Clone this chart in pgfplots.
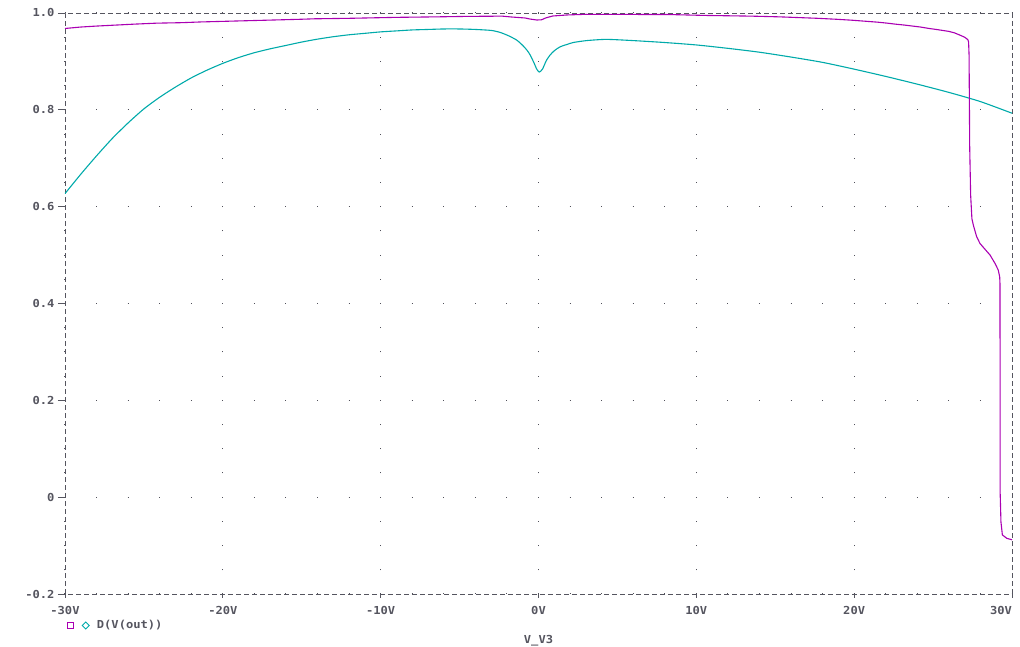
\documentclass[border=0pt]{standalone}
\usepackage{fontspec}
\usepackage{pgfplots}
\pgfplotsset{compat=1.18}
\newfontfamily\psfont[FakeStretch=1.1]{DejaVu Sans Mono}
\newcommand\pf{\psfont\bfseries\fontsize{11}{13}\selectfont}
\definecolor{pmag}{RGB}{170,0,178}
\definecolor{pcyan}{RGB}{0,170,170}
\definecolor{pgray}{RGB}{85,85,95}
\definecolor{pdot}{RGB}{80,80,90}
\begin{document}
\begin{tikzpicture}
\begin{axis}[
  scale only axis, width=947pt, height=581pt,
  xmin=-30, xmax=30, ymin=-0.2, ymax=1.0,
  xtick={-30,-20,-10,0,10,20,30},
  xticklabels={-30V,-20V,-10V,0V,10V,20V,\llap{30V}},
  ytick={-0.2,0,0.2,0.4,0.6,0.8,1.0},
  yticklabels={-0.2,0,0.2,0.4,0.6,0.8,1.0},
  xtick pos=bottom, ytick pos=left,
  tick align=outside, major tick length=7pt,
  xtick style={pgray, line width=0.8pt, /pgfplots/major tick length=4pt},
  ytick style={pgray, line width=0.8pt},
  tick label style={font=\pf, text=pgray},
  xticklabel style={yshift=-2pt},
  axis line style={pgray, line width=0.8pt, dash pattern=on 5pt off 3pt},
  grid=major,
  x grid style={pdot, line width=1pt, dash pattern=on 1pt off 23.2085pt, dash phase=0.5pt},
  y grid style={pdot, line width=1pt, dash pattern=on 1pt off 30.5667pt, dash phase=0.5pt},
  xlabel={V\_V3},
  xlabel style={font=\pf, text=pgray, at={(axis description cs:0.5,0)}, anchor=center, yshift=-47pt},
]
\addplot[pcyan, line width=1.1pt, smooth, tension=0.4] coordinates {
(-30,0.627) (-29,0.667) (-28,0.705) (-27,0.741) (-26,0.773) (-25,0.802)
(-24,0.826) (-23,0.847) (-22,0.866) (-21,0.882) (-20,0.896) (-19,0.908)
(-18,0.918) (-17,0.926) (-16,0.933) (-15,0.940) (-14,0.946) (-13,0.951)
(-12,0.955) (-11,0.958) (-10,0.961) (-9,0.963) (-8,0.965) (-7,0.966)
(-6,0.967) (-5,0.967) (-4,0.966) (-3.0,0.964) (-2.44,0.960)
(-1.9,0.953) (-1.38,0.944) (-1.0,0.933) (-0.75,0.924) (-0.54,0.914) (-0.3,0.898)
(-0.11,0.884) (0.05,0.878) (0.25,0.884) (0.5,0.902) (0.73,0.913) (1.0,0.922)
(1.36,0.930) (1.8,0.935) (2.2,0.939) (3.05,0.943) (4.3,0.9455) (6,0.943)
(8,0.939) (10,0.934) (12,0.927) (14,0.919) (16,0.909) (18,0.898) (20,0.884)
(22,0.869) (24,0.853) (26,0.836) (28,0.817) (30,0.793)
};
\addplot[pmag, line width=1.1pt] coordinates {
(-30,0.968) (-29,0.971) (-28,0.973) (-26.8,0.975) (-25.6,0.977) (-24.2,0.979)
(-22.6,0.980) (-21.4,0.9815) (-16.8,0.9855) (-15.1,0.987) (-14.2,0.988) (-12,0.989)
(-10.5,0.990) (-9,0.991) (-6.5,0.992) (-4.5,0.993) (-2.3,0.9935) (-1.7,0.9917)
(-0.85,0.9897) (-0.55,0.9876) (-0.1,0.9855) (0.2,0.986) (0.45,0.9897) (0.9,0.9938)
(1.8,0.9959) (3,0.9973) (8.3,0.9968) (10.5,0.995) (13.5,0.9935) (15.3,0.992)
(16.1,0.991) (17.7,0.989) (18.9,0.987) (19.9,0.985) (20.7,0.983) (21.5,0.981)
(22.1,0.979) (22.6,0.977) (23.2,0.975) (23.7,0.973) (24.2,0.971) (24.75,0.968)
(25.2,0.966) (25.6,0.964) (26.0,0.962) (26.35,0.959) (26.65,0.955) (27.0,0.950)
(27.2,0.945) (27.25,0.940) (27.28,0.913) (27.32,0.723) (27.38,0.624) (27.46,0.575)
(27.55,0.562) (27.76,0.538) (27.97,0.524) (28.29,0.512) (28.61,0.500) (28.92,0.483)
(29.13,0.469) (29.22,0.455) (29.24,0.440) (29.25,0.009) (29.3,-0.051) (29.39,-0.078)
(29.67,-0.085) (30,-0.088)
};
\end{axis}
\draw[pmag, line width=0.9pt] (2pt,-34.5pt) rectangle (8pt,-28.5pt);
\draw[pcyan, line width=0.9pt] (17.3pt,-31.5pt) -- (20.8pt,-28pt) -- (24.3pt,-31.5pt) -- (20.8pt,-35pt) -- cycle;
\node[anchor=west, font=\pf, text=pgray, inner sep=0pt] at (31.7pt,-31pt) {D(V(out))};
\pgfresetboundingbox
\useasboundingbox (-65pt,-53pt) rectangle (955pt,594pt);
\end{tikzpicture}
\end{document}
